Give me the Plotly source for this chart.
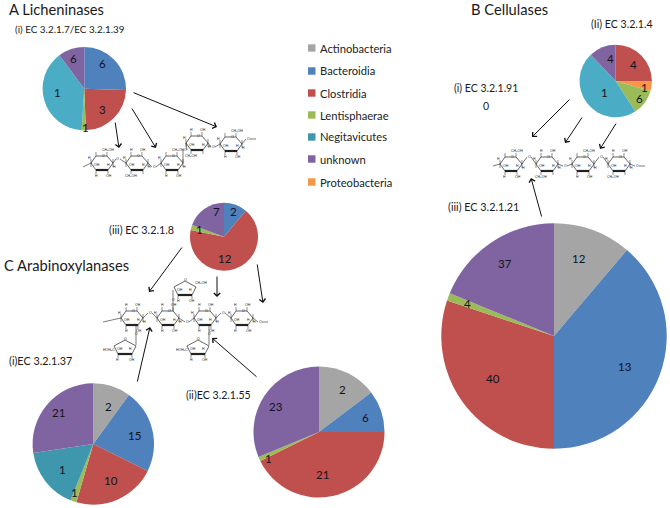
import plotly.graph_objects as go

W, H = 670, 508

# ---- data -----
series_names = ["Actinobacteria", "Bacteroidia", "Clostridia", "Lentisphaerae",
                "Negitavicutes", "unknown", "Proteobacteria"]
legend_colors = ["#A5A5A5", "#4F81BD", "#C0504D", "#9BBB59", "#3F97AE", "#8064A2", "#F79646"]

a1_names = ["Bacteroidia", "Clostridia", "Lentisphaerae", "Negitavicutes", "unknown"]
a1_share = [25.5, 23.9, 1.6, 38.8, 10.2]
a1_count = ["6", "3", "1", "1", "6"]

a3_names = ["Bacteroidia", "Clostridia", "Lentisphaerae", "unknown"]
a3_share = [11.1, 67.0, 2.5, 19.4]
a3_count = ["2", "12", "1", "7"]

b2_names = ["Clostridia", "Proteobacteria", "Lentisphaerae", "Negitavicutes", "unknown"]
b2_share = [25.0, 4.4, 11.5, 47.0, 12.1]
b2_count = ["4", "1", "6", "1", "4"]

b3_names = ["Actinobacteria", "Bacteroidia", "Clostridia", "Lentisphaerae", "unknown"]
b3_share = [11.2, 38.8, 30.1, 1.1, 18.8]
b3_count = ["12", "13", "40", "4", "37"]

c1_names = ["Actinobacteria", "Bacteroidia", "Clostridia", "Lentisphaerae", "Negitavicutes", "unknown"]
c1_share = [10.0, 22.3, 22.2, 1.6, 16.5, 27.4]
c1_count = ["2", "15", "10", "1", "1", "21"]

c2_names = ["Actinobacteria", "Bacteroidia", "Clostridia", "Lentisphaerae", "unknown"]
c2_share = [14.7, 10.3, 42.7, 1.1, 31.2]
c2_count = ["2", "6", "21", "1", "23"]

# ---- layout helpers -----
FONT = "Lato, Carlito, Calibri, sans-serif"
INK = "#1a1a1a"
def fx(x): return x / W
def fy(y): return 1 - y / H

colors = dict(zip(series_names, legend_colors))
bright_teal = "#4BACC6"

pies = [
    (a1_names, a1_share, a1_count, (84.3, 88.7, 41.7), [(102, 63), (102, 109), (85, 127), (57, 92), (73, 58)], bright_teal),
    (a3_names, a3_share, a3_count, (224, 236.7, 34), [(233, 212), (225, 258), (199, 229), (216, 212)], None),
    (b2_names, b2_share, b2_count, (615.7, 81, 36.2), [(633, 64), (644, 87), (639, 98), (604, 92), (610, 58)], bright_teal),
    (b3_names, b3_share, b3_count, (554, 336, 112.7), [(579, 258), (625, 366), (493, 378), (467, 303), (505, 263)], None),
    (c1_names, c1_share, c1_count, (93.3, 444, 60.7), [(108, 406), (134, 435), (111, 480), (74, 492), (62, 469), (59, 412)], None),
    (c2_names, c2_share, c2_count, (319, 432, 65.5), [(342, 389), (365, 417), (322, 474), (268, 458), (276, 406)], None),
]

fig = go.Figure()
annotations, shapes = [], []

def text(x, y, s, size=11, anchor="left", color=INK, family=FONT):
    annotations.append(dict(x=fx(x), y=fy(y), xref="paper", yref="paper", text=s, showarrow=False,
                            xanchor=anchor, yanchor="middle", borderpad=0,
                            font=dict(family=family, size=size, color=color)))

for names, share, count, (cx, cy, r), label_xy, teal in pies:
    cols = [(teal if (teal and n == "Negitavicutes") else colors[n]) for n in names]
    fig.add_trace(go.Pie(labels=names, values=share, sort=False, direction="clockwise", rotation=0,
                         textinfo="none", hoverinfo="label+value",
                         marker=dict(colors=cols, line=dict(width=0)),
                         domain=dict(x=[fx(cx - r), fx(cx + r)], y=[fy(cy + r), fy(cy - r)]),
                         showlegend=False))
    for s, (lx, ly) in zip(count, label_xy):
        text(lx, ly, s, size=11.5, anchor="center", color="#10131c")

# titles
text(7.5, 9.5, "A Licheninases", 14.7)
text(13.5, 29, "(i) EC 3.2.1.7/EC 3.2.1.39", 9.9)
text(3, 265, "C Arabinoxylanases", 14.7)
text(108, 229, "(iii) EC 3.2.1.8", 10.8)
text(8, 360, "(i)EC 3.2.1.37", 10.8)
text(185, 395, "(ii)EC 3.2.1.55", 10.6)
text(470, 9.5, "B Cellulases", 14.7)
text(590, 24, "(Ii) EC 3.2.1.4", 10.6)
text(453, 88, "(i) EC 3.2.1.91", 10.5)
text(486, 106, "0", 10.5, "center")
text(447, 207, "(iii) EC 3.2.1.21", 10.8)

# legend
legend_ys = [48, 71, 93, 115, 137, 159, 182]
for n, c, y in zip(series_names, legend_colors, legend_ys):
    shapes.append(dict(type="rect", xref="paper", yref="paper", x0=fx(308), x1=fx(315.5),
                       y0=fy(y + 3.7), y1=fy(y - 3.7), fillcolor=c, line_width=0))
    text(319, y, n, 11.2, color="#222222")

# arrows (head, tail)
arrows = [
    ((217, 127), (132, 92)), ((156, 148), (131, 107)), ((119, 148), (115, 121)),
    ((149, 292), (183, 246)), ((217, 297), (217, 275)), ((263, 303), (257, 263)),
    ((150, 327), (137, 383)), ((212, 338), (258, 378)),
    ((532, 137), (571, 98)), ((565, 143), (583, 116)), ((600, 149), (617, 122)), ((531, 178), (542, 218)),
]
for (hx, hy), (tx, ty) in arrows:
    annotations.append(dict(x=fx(hx), y=fy(hy), xref="paper", yref="paper", ax=tx - hx, ay=ty - hy,
                            axref="pixel", ayref="pixel", text="", showarrow=True, arrowhead=4,
                            arrowsize=1.2, arrowwidth=1.0, arrowcolor="#111111"))

# chemical drawings
def poly(pts, width=0.6, close=False):
    d = "M" + "L".join(f"{fx(x):.5f},{fy(y):.5f}" for x, y in pts) + ("Z" if close else "")
    shapes.append(dict(type="path", xref="paper", yref="paper", path=d, line=dict(width=width, color="#222222")))

def tiny(x, y, s):
    text(x, y, s, 3.5, "center", "#222222", "Liberation Sans")

def hexring(cx, cy, top=("H", "OH"), bottom=("H", "OH")):
    v = [(-11, 1), (-6, -6), (5, -6), (11, 1), (6, 8), (-6, 8)]
    poly([(cx + a, cy + b) for a, b in v], 0.7, True)
    poly([(cx - 6, cy + 8), (cx + 6, cy + 8)], 2.2)
    tiny(cx + 1, cy - 6, "O")
    for a, b in [(-6, -6), (5, -6)]:
        poly([(cx + a, cy + b), (cx + a, cy + b - 4)], 0.5)
    for a, b in [(-6, 8), (6, 8)]:
        poly([(cx + a, cy + b), (cx + a, cy + b + 4)], 0.5)
    for a in (-11, 11):
        poly([(cx + a, cy - 3), (cx + a, cy + 5)], 0.5)
    tiny(cx - 6, cy - 12, top[0]); tiny(cx + 6, cy - 12, top[1])
    tiny(cx - 6, cy + 14, bottom[0]); tiny(cx + 7, cy + 14, bottom[1])
    tiny(cx - 5, cy + 3, "OH"); tiny(cx + 6, cy + 3, "H")
    tiny(cx - 12.5, cy - 4, "H"); tiny(cx + 12.5, cy + 5, "H")

def furan(cx, cy, side="CH\u2082OH", side_x=16):
    v = [(0, -7), (11, -1), (7, 7), (-7, 7), (-11, -1)]
    poly([(cx + a, cy + b) for a, b in v], 0.7, True)
    poly([(cx - 7, cy + 7), (cx + 7, cy + 7)], 2.2)
    poly([(cx - 7, cy + 7), (cx - 7, cy + 11)], 0.5)
    poly([(cx + 7, cy + 7), (cx + 7, cy + 11)], 0.5)
    tiny(cx, cy - 8, "O"); tiny(cx - 7, cy + 13, "H"); tiny(cx + 7, cy + 13, "OH")
    tiny(cx - 5, cy + 2, "OH"); tiny(cx + 5, cy + 2, "H")
    tiny(cx + side_x, cy - 5 if side_x > 0 else cy + 3, side)

def chain(centers, links, tail, head):
    poly([tail, (centers[0][0] - 11, centers[0][1] + 1)], 0.6)
    for (c0, c1, o) in zip(centers[:-1], centers[1:], links):
        poly([(c0[0] + 11, c0[1] + 1), (o[0] - 2, o[1])], 0.6)
        poly([(o[0] + 2, o[1]), (c1[0] - 11, c1[1] + 1)], 0.6)
        tiny(o[0], o[1], "O")
    last = centers[-1]
    poly([(last[0] + 11, last[1] + 1), (head[0] - 2, head[1])], 0.6)
    tiny(head[0], head[1], "O")
    poly([(head[0] + 2, head[1]), (head[0] + 8, head[1])], 0.6)

CH = "CH\u2082OH"
# A
a_c = [(102, 162), (137, 162), (172, 162), (197, 142), (231, 143)]
chain(a_c, [(118, 159), (154, 167), (185, 150), (213, 147)], (83, 167), (248, 139))
hexring(*a_c[0], top=("", CH))
hexring(*a_c[1], bottom=(CH, ""))
hexring(*a_c[2], top=("", CH))
hexring(*a_c[3], bottom=(CH, ""))
hexring(*a_c[4], top=("", CH))
# B
b_c = [(511, 163), (547, 163), (583, 163), (619, 163)]
chain(b_c, [(529, 157), (565, 166), (601, 157)], (493, 166), (637, 166))
hexring(*b_c[0], top=("", CH)); hexring(*b_c[1], bottom=(CH, ""))
hexring(*b_c[2], top=("", CH)); hexring(*b_c[3], bottom=(CH, ""))
# C
c_c = [(132, 317), (168, 317), (205, 317), (242, 317)]
chain(c_c, [(150, 313), (187, 322), (223, 313)], (103, 322), (260, 322))
for c in c_c:
    hexring(*c)
furan(185, 288); poly([(173, 290), (173, 311)], 0.6); tiny(173, 300, "O")
furan(125, 347, "HOH\u2082C", -16); poly([(136, 326), (136, 345)], 0.6); tiny(136, 334, "O")
furan(198, 347, "HOH\u2082C", -16); poly([(209, 326), (209, 345)], 0.6); tiny(209, 334, "O")

fig.update_layout(width=W, height=H, margin=dict(l=0, r=0, t=0, b=0), paper_bgcolor="white",
                  plot_bgcolor="white", showlegend=False, annotations=annotations, shapes=shapes)
fig.write_html("out.html", config=dict(displayModeBar=False))
with open("out.html", encoding="utf-8") as fh:
    page = fh.read()
page = page.replace("<head>", "<head><style>html,body{margin:0;padding:0;overflow:hidden}</style>", 1)
with open("out.html", "w", encoding="utf-8") as fh:
    fh.write(page)
